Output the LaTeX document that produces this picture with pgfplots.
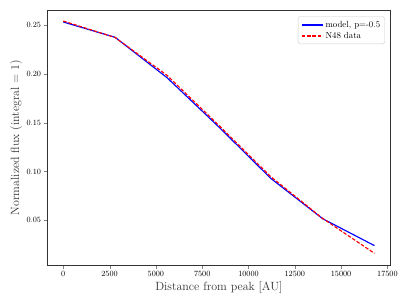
\documentclass[border=0pt]{standalone}
\usepackage{pgfplots}
\pgfplotsset{compat=1.18}
\begin{document}
\begin{tikzpicture}[x=1pt,y=1pt]
\begin{axis}[
  at={(0,0)}, anchor=south west,
  scale only axis,
  width=387.3pt, height=288.5pt,
  xmin=-840, xmax=17640,
  ymin=0.0043, ymax=0.2654,
  xtick={0,2500,5000,7500,10000,12500,15000,17500},
  ytick={0.05,0.10,0.15,0.20,0.25},
  yticklabel style={/pgf/number format/.cd,fixed,fixed zerofill,precision=2},
  xticklabel style={/pgf/number format/.cd,fixed,1000 sep={}},
  scaled x ticks=false, scaled y ticks=false,
  tick label style={font=\fontsize{9}{10}\selectfont},
  tick align=outside, tick pos=left,
  major tick length=4pt,
  axis line style={line width=0.9pt, black!80},
  xlabel={Distance from peak [AU]},
  ylabel={Normalized flux (integral = 1)},
  label style={font=\fontsize{13.5}{15}\selectfont, text=black!80},
  xlabel style={yshift=2pt},
  ylabel style={yshift=-2pt},
  legend style={at={(0.985,0.975)}, anchor=north east, font=\fontsize{10}{12}\selectfont, draw=black!20, rounded corners=2pt, inner sep=3pt, row sep=0pt},
  legend cell align=left,
  legend image code/.code={\draw[#1, line width=2pt] (0pt,0pt) -- (24pt,0pt);},
]
\addplot[color=blue, line width=1.3pt] coordinates {
 (0,0.2531) (2800,0.2374) (5600,0.1961) (8400,0.1456) (11200,0.0930) (14000,0.0517) (16800,0.0241)
};
\addlegendentry{model, p=-0.5}
\addplot[color=red, line width=1.3pt, dash pattern=on 4pt off 2pt] coordinates {
 (0,0.2541) (2800,0.2372) (5600,0.1985) (8400,0.1472) (11200,0.0947) (14000,0.0520) (16800,0.0162)
};
\addlegendentry{N48 data}
\end{axis}
\useasboundingbox (-54pt,-45.3pt) rectangle (406.5pt,299.8pt);
\end{tikzpicture}
\end{document}
